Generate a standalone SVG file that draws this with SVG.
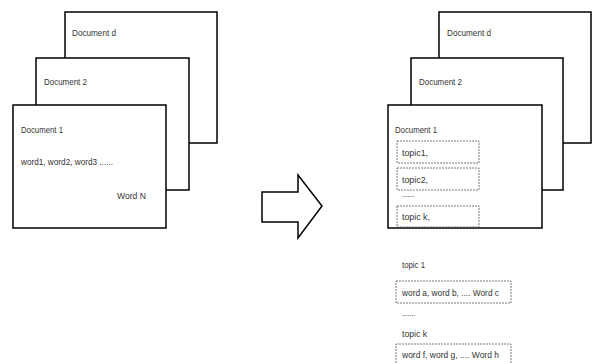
<svg xmlns="http://www.w3.org/2000/svg" width="592" height="363" viewBox="0 0 592 363">
<style>
.doc{fill:#fff;stroke:#000;stroke-width:1.5}
.box{fill:#fff;stroke:#555;stroke-width:0.8;stroke-dasharray:2 1}
text{font-family:"Liberation Sans",Arial,sans-serif;font-size:9.5px;fill:#333}
</style>
<rect width="592" height="363" fill="#fff"/>
<g id="left-doc-d"><rect class="doc" x="65" y="12" width="152" height="131"/><text x="72" y="36" textLength="44" lengthAdjust="spacingAndGlyphs">Document d</text></g>
<g id="left-doc-2"><rect class="doc" x="36" y="58" width="153" height="132"/><text x="44" y="85" textLength="43" lengthAdjust="spacingAndGlyphs">Document 2</text></g>
<g id="left-doc-1"><rect class="doc" x="13" y="105" width="153" height="123"/><text x="21" y="133" textLength="42" lengthAdjust="spacingAndGlyphs">Document 1</text><text x="21" y="165" textLength="92" lengthAdjust="spacingAndGlyphs">word1, word2, word3 ......</text><text x="117" y="199" textLength="29" lengthAdjust="spacingAndGlyphs">Word N</text></g>
<g id="arrow"><path class="doc" d="M262 192 H298 V175 L322 206 L298 238 V222 H262 Z"/></g>
<g id="right-doc-d"><rect class="doc" x="439" y="12" width="152" height="131"/><text x="447" y="36" textLength="44" lengthAdjust="spacingAndGlyphs">Document d</text></g>
<g id="right-doc-2"><rect class="doc" x="411" y="58" width="152" height="132"/><text x="419" y="85" textLength="43" lengthAdjust="spacingAndGlyphs">Document 2</text></g>
<g id="right-doc-1"><rect class="doc" x="388" y="105" width="154" height="123"/><text x="395" y="133" textLength="42" lengthAdjust="spacingAndGlyphs">Document 1</text>
<rect class="box" x="397" y="141" width="82" height="22"/><text x="402" y="156" textLength="26" lengthAdjust="spacingAndGlyphs">topic1,</text>
<rect class="box" x="397" y="168" width="82" height="22"/><text x="402" y="183" textLength="26" lengthAdjust="spacingAndGlyphs">topic2,</text>
<text x="402" y="197" textLength="12" lengthAdjust="spacingAndGlyphs">.......</text>
<rect class="box" x="397" y="206" width="82" height="21"/><text x="402" y="220" textLength="28" lengthAdjust="spacingAndGlyphs">topic k,</text></g>
<g id="topic-list"><text x="402" y="268" textLength="23" lengthAdjust="spacingAndGlyphs">topic 1</text>
<rect class="box" x="396" y="281" width="115" height="22"/><text x="402" y="296" textLength="97" lengthAdjust="spacingAndGlyphs">word a, word b, .... Word c</text>
<text x="402" y="316" textLength="13" lengthAdjust="spacingAndGlyphs">.......</text>
<text x="402" y="337" textLength="25" lengthAdjust="spacingAndGlyphs">topic k</text>
<rect class="box" x="396" y="344" width="115" height="22"/><text x="402" y="358" textLength="97" lengthAdjust="spacingAndGlyphs">word f, word g, .... Word h</text></g>
</svg>
